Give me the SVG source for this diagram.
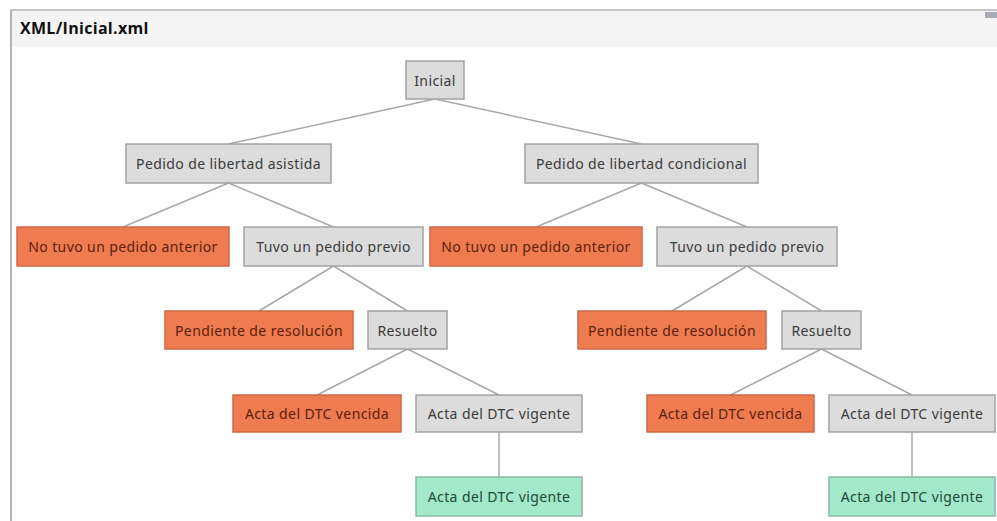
<svg xmlns="http://www.w3.org/2000/svg" width="997" height="521" viewBox="0 0 997 521">
<style>
.g rect{fill:#dcdcdc;stroke:#a3a3a3;stroke-width:1.5}
.o rect{fill:#ef7b50;stroke:#cf6a45;stroke-width:1.5}
.m rect{fill:#a2e8ca;stroke:#8bb8a4;stroke-width:1.5}
text{font-family:"Noto Sans","Open Sans",sans-serif;font-size:14px;letter-spacing:0.4px;text-anchor:middle;dominant-baseline:central}
.g text{fill:#3a3a3a}
.o text{fill:#5a1e0c}
.m text{fill:#1d4a36}
#edges line{stroke:#a8a8a8;stroke-width:1.5}
</style>
<rect x="0" y="0" width="997" height="521" fill="#ffffff"/>
<rect x="11" y="10" width="986" height="37" fill="#f4f4f4"/>
<line x1="10" y1="10" x2="997" y2="10" stroke="#b4b4b4" stroke-width="1.5"/>
<line x1="11" y1="10" x2="11" y2="521" stroke="#b4b4b4" stroke-width="2"/>
<rect x="985" y="12" width="12" height="6" fill="#a8acb4"/>
<text x="20" y="28" style="font-family:'Open Sans','Noto Sans',sans-serif;font-size:16px;font-weight:bold;letter-spacing:0.3px;text-anchor:start;fill:#111">XML/Inicial.xml</text>
<g id="edges">
<line x1="435" y1="99" x2="228.5" y2="144"/>
<line x1="435" y1="99" x2="641.5" y2="144"/>
<line x1="228.5" y1="183" x2="123" y2="227"/>
<line x1="228.5" y1="183" x2="333.5" y2="227"/>
<line x1="641.5" y1="183" x2="536" y2="227"/>
<line x1="641.5" y1="183" x2="747" y2="227"/>
<line x1="333.5" y1="266" x2="259" y2="311"/>
<line x1="333.5" y1="266" x2="407.5" y2="311"/>
<line x1="747" y1="266" x2="672" y2="311"/>
<line x1="747" y1="266" x2="821.5" y2="311"/>
<line x1="407.5" y1="349" x2="317" y2="395"/>
<line x1="407.5" y1="349" x2="499" y2="395"/>
<line x1="821.5" y1="349" x2="730.5" y2="395"/>
<line x1="821.5" y1="349" x2="912" y2="395"/>
<line x1="499" y1="432" x2="499" y2="477"/>
<line x1="912" y1="432" x2="912" y2="477"/>
</g>
<g id="n-inicial" class="g"><rect x="406" y="61" width="58" height="38"/><text x="435" y="80">Inicial</text></g>
<g id="n-asistida" class="g"><rect x="126" y="144" width="205" height="39"/><text x="228.5" y="163.5">Pedido de libertad asistida</text></g>
<g id="n-condicional" class="g"><rect x="525" y="144" width="233" height="39"/><text x="641.5" y="163.5">Pedido de libertad condicional</text></g>
<g id="n-notuvo-a" class="o"><rect x="17" y="227" width="212" height="39"/><text x="123" y="246.5">No tuvo un pedido anterior</text></g>
<g id="n-tuvo-a" class="g"><rect x="244" y="227" width="179" height="39"/><text x="333.5" y="246.5">Tuvo un pedido previo</text></g>
<g id="n-notuvo-c" class="o"><rect x="430" y="227" width="212" height="39"/><text x="536" y="246.5">No tuvo un pedido anterior</text></g>
<g id="n-tuvo-c" class="g"><rect x="657" y="227" width="180" height="39"/><text x="747" y="246.5">Tuvo un pedido previo</text></g>
<g id="n-pend-a" class="o"><rect x="165" y="311" width="188" height="38"/><text x="259" y="330">Pendiente de resolución</text></g>
<g id="n-res-a" class="g"><rect x="368" y="311" width="79" height="38"/><text x="407.5" y="330">Resuelto</text></g>
<g id="n-pend-c" class="o"><rect x="578" y="311" width="188" height="38"/><text x="672" y="330">Pendiente de resolución</text></g>
<g id="n-res-c" class="g"><rect x="782" y="311" width="79" height="38"/><text x="821.5" y="330">Resuelto</text></g>
<g id="n-venc-a" class="o"><rect x="233" y="395" width="168" height="37"/><text x="317" y="413.5">Acta del DTC vencida</text></g>
<g id="n-vig-a" class="g"><rect x="416" y="395" width="166" height="37"/><text x="499" y="413.5">Acta del DTC vigente</text></g>
<g id="n-venc-c" class="o"><rect x="647" y="395" width="167" height="37"/><text x="730.5" y="413.5">Acta del DTC vencida</text></g>
<g id="n-vig-c" class="g"><rect x="829" y="395" width="166" height="37"/><text x="912" y="413.5">Acta del DTC vigente</text></g>
<g id="n-ok-a" class="m"><rect x="416" y="477" width="166" height="39"/><text x="499" y="496.5">Acta del DTC vigente</text></g>
<g id="n-ok-c" class="m"><rect x="829" y="477" width="166" height="39"/><text x="912" y="496.5">Acta del DTC vigente</text></g>
</svg>
